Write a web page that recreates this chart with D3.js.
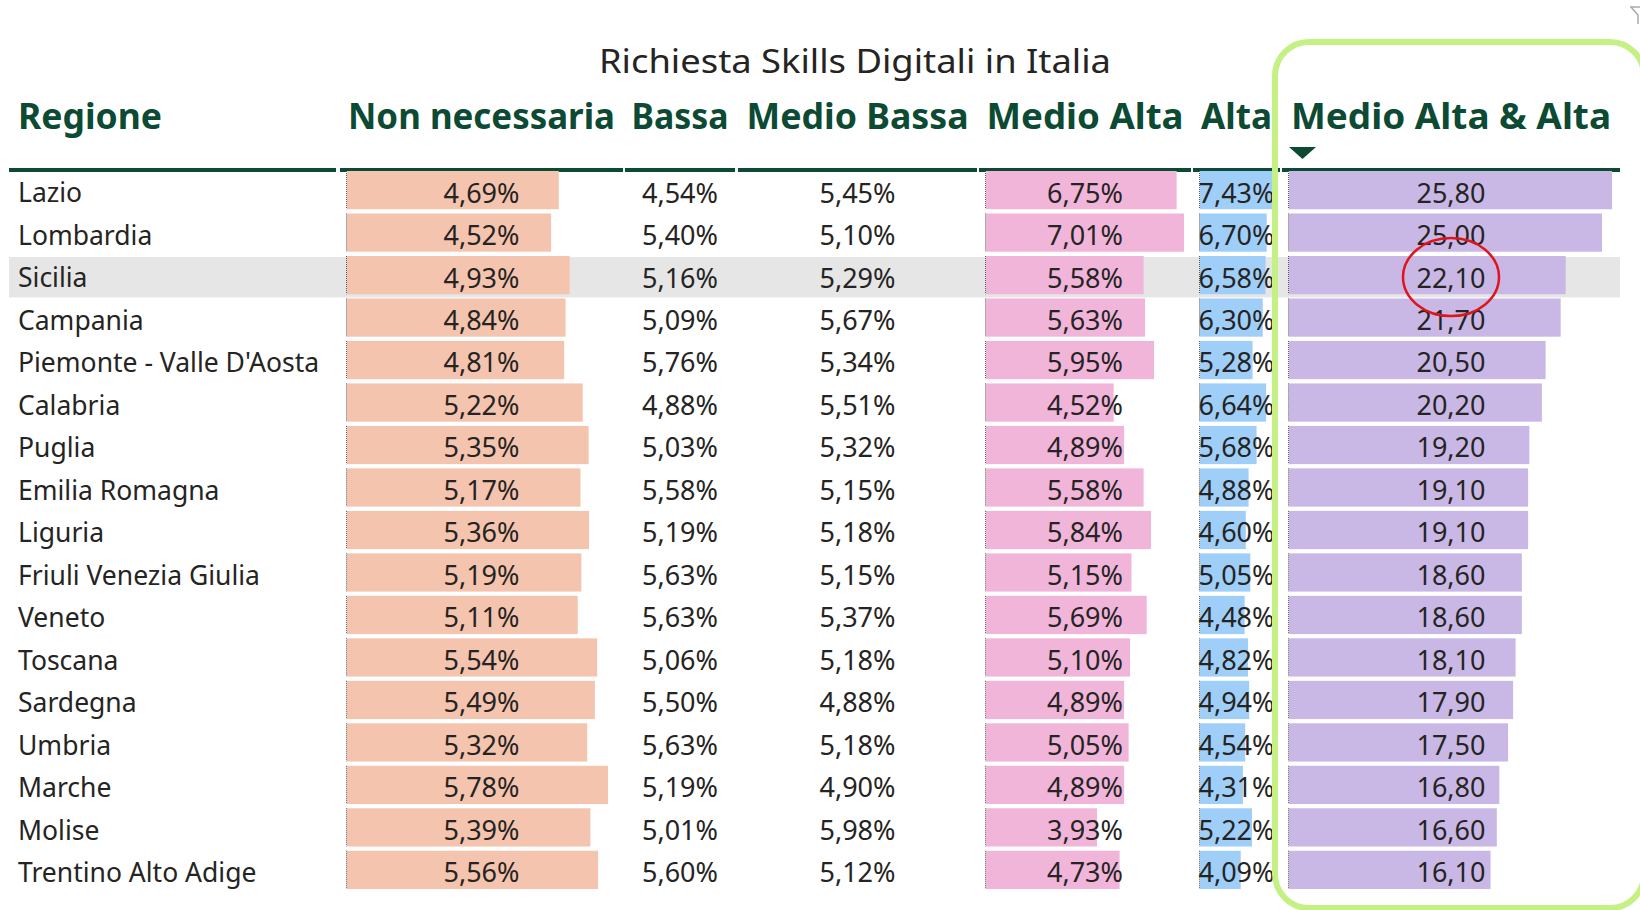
<!DOCTYPE html>
<html>
<head>
<meta charset="utf-8">
<script src="https://cdn.jsdelivr.net/npm/d3@7"></script>
<style>
    body { margin: 0; background: #fff; }
    svg { display: block; font-family: "Noto Sans", "Open Sans", sans-serif; }
</style>
</head>
<body>
<script>
const regions = ["Lazio", "Lombardia", "Sicilia", "Campania", "Piemonte - Valle D'Aosta", "Calabria", "Puglia",
    "Emilia Romagna", "Liguria", "Friuli Venezia Giulia", "Veneto", "Toscana", "Sardegna", "Umbria", "Marche",
    "Molise", "Trentino Alto Adige"];

const nonNecessaria = [4.69, 4.52, 4.93, 4.84, 4.81, 5.22, 5.35, 5.17, 5.36, 5.19, 5.11, 5.54, 5.49, 5.32, 5.78, 5.39, 5.56];
const bassa = [4.54, 5.40, 5.16, 5.09, 5.76, 4.88, 5.03, 5.58, 5.19, 5.63, 5.63, 5.06, 5.50, 5.63, 5.19, 5.01, 5.60];
const medioBassa = [5.45, 5.10, 5.29, 5.67, 5.34, 5.51, 5.32, 5.15, 5.18, 5.15, 5.37, 5.18, 4.88, 5.18, 4.90, 5.98, 5.12];
const medioAlta = [6.75, 7.01, 5.58, 5.63, 5.95, 4.52, 4.89, 5.58, 5.84, 5.15, 5.69, 5.10, 4.89, 5.05, 4.89, 3.93, 4.73];
const alta = [7.43, 6.70, 6.58, 6.30, 5.28, 6.64, 5.68, 4.88, 4.60, 5.05, 4.48, 4.82, 4.94, 4.54, 4.31, 5.22, 4.09];
const medioAltaAlta = [25.80, 25.00, 22.10, 21.70, 20.50, 20.20, 19.20, 19.10, 19.10, 18.60, 18.60, 18.10, 17.90, 17.50, 16.80, 16.60, 16.10];

const title = "Richiesta Skills Digitali in Italia";
const highlighted = "Sicilia";
const circled = "Sicilia";

const w = 1640, h = 910;
const green = "#0c4a33";
const textColor = "#252423";

// italian number format: 4,69
const it = d3.formatLocale({decimal: ",", thousands: ".", grouping: [3], currency: ["€", ""]});
const pct = v => it.format(".2f")(v) + "%";
const num = v => it.format(".2f")(v);

// column layout (x extents and header widths in px), values attached from the arrays above
const columns = [
    {title: "Regione", x0: 9, x1: 336, headerW: 144, align: "left"},
    {title: "Non necessaria", x0: 340, x1: 623, headerW: 267, values: nonNecessaria, fmt: pct, color: "#f4c4af", barMax: 261},
    {title: "Bassa", x0: 625, x1: 735, headerW: 97, values: bassa, fmt: pct},
    {title: "Medio Bassa", x0: 738, x1: 977, headerW: 222, values: medioBassa, fmt: pct},
    {title: "Medio Alta", x0: 979, x1: 1191, headerW: 197, values: medioAlta, fmt: pct, color: "#f1b5da", barMax: 198},
    {title: "Alta", x0: 1193, x1: 1280, headerW: 71, values: alta, fmt: pct, color: "#9fcff9", barMax: 74, clip: 1274},
    {title: "Medio Alta & Alta", x0: 1282, x1: 1620, headerW: 320, values: medioAltaAlta, fmt: num, color: "#c9b8e6", barMax: 323, sorted: true}
];
columns.forEach(c => {
    c.cx = (c.x0 + c.x1) / 2;
    if (c.color) {
        c.barX = c.x0 + 7;
        c.scale = d3.scaleLinear().domain([0, d3.max(c.values)]).range([0, c.barMax]);
    }
});

const y = d3.scaleBand().domain(regions).range([171, 889]).paddingInner(0.1);

const svg = d3.select("body").append("svg")
    .attr("width", w)
    .attr("height", h);

// title
svg.append("text")
    .attr("x", 855)
    .attr("y", 73)
    .attr("text-anchor", "middle")
    .style("font-size", "33px")
    .style("fill", textColor)
    .attr("textLength", 512)
    .attr("lengthAdjust", "spacingAndGlyphs")
    .text(title);

// highlighted row
svg.append("rect")
    .attr("x", columns[0].x0)
    .attr("y", y(highlighted) + 1)
    .attr("width", columns[columns.length - 1].x1 - columns[0].x0)
    .attr("height", y.step() - 2)
    .style("fill", "#e6e6e6");

// headers
svg.append("g")
    .selectAll("text")
    .data(columns)
    .join("text")
    .attr("x", c => c.align === "left" ? 18 : c.cx)
    .attr("y", 129)
    .attr("text-anchor", c => c.align === "left" ? "start" : "middle")
    .attr("textLength", c => c.headerW)
    .attr("lengthAdjust", "spacingAndGlyphs")
    .style("font-size", "36px")
    .style("font-weight", "bold")
    .style("fill", green)
    .text(c => c.title);

// header underline, one segment per column
svg.append("g")
    .selectAll("rect")
    .data(columns)
    .join("rect")
    .attr("x", c => c.x0)
    .attr("y", 168)
    .attr("width", c => c.x1 - c.x0)
    .attr("height", 4)
    .style("fill", green);

// sort marker
const sortCol = columns.find(c => c.sorted);
svg.append("path")
    .attr("d", `M${sortCol.x0 + 7},147 L${sortCol.x0 + 34},147 L${sortCol.x0 + 20.5},159 Z`)
    .style("fill", green);

// region names
svg.append("g")
    .selectAll("text")
    .data(regions)
    .join("text")
    .attr("x", 18)
    .attr("y", d => y(d) + y.bandwidth() / 2)
    .attr("dy", "0.46em")
    .style("font-size", "26.5px")
    .style("fill", textColor)
    .text(d => d);

// value columns
columns.filter(c => c.values).forEach((c, ci) => {
    const g = svg.append("g");
    const rows = regions.map((r, i) => ({r, v: c.values[i]}));

    if (c.clip) {
        svg.append("clipPath")
            .attr("id", "clip" + ci)
            .append("rect")
            .attr("x", c.x0)
            .attr("y", 0)
            .attr("width", c.clip - c.x0)
            .attr("height", h);
        g.attr("clip-path", `url(#clip${ci})`);
    }

    if (c.color) {
        g.selectAll("rect")
            .data(rows)
            .join("rect")
            .attr("x", c.barX)
            .attr("y", d => y(d.r))
            .attr("width", d => c.scale(d.v))
            .attr("height", y.bandwidth())
            .style("fill", c.color);

        g.selectAll("line")
            .data(rows)
            .join("line")
            .attr("x1", c.barX - 0.5)
            .attr("x2", c.barX - 0.5)
            .attr("y1", d => y(d.r))
            .attr("y2", d => y(d.r) + y.bandwidth())
            .style("stroke", "#555")
            .style("stroke-width", 1)
            .style("stroke-dasharray", "1,1");
    }

    g.selectAll("text")
        .data(rows)
        .join("text")
        .attr("x", c.cx)
        .attr("y", d => y(d.r) + y.bandwidth() / 2)
        .attr("dy", "0.46em")
        .attr("text-anchor", "middle")
        .style("font-size", "27px")
        .style("fill", textColor)
        .text(d => c.fmt(d.v));
});

// green highlight box around the last column
svg.append("rect")
    .attr("x", 1275)
    .attr("y", 42)
    .attr("width", 369)
    .attr("height", 866)
    .attr("rx", 34)
    .style("fill", "none")
    .style("stroke", "#c4f084")
    .style("stroke-width", 6);

// red circle on the circled value
svg.append("ellipse")
    .attr("cx", sortCol.cx)
    .attr("cy", y(circled) + y.bandwidth() / 2 + 2)
    .attr("rx", 48)
    .attr("ry", 39)
    .style("fill", "none")
    .style("stroke", "#e0141c")
    .style("stroke-width", 2.5);

// filter icon in the corner (partly cut off)
svg.append("path")
    .attr("d", "M1630,7 L1646,7 M1631,7 L1638,15 L1638,24")
    .style("fill", "none")
    .style("stroke", "#aaa")
    .style("stroke-width", 1.5);
</script>
</body>
</html>
